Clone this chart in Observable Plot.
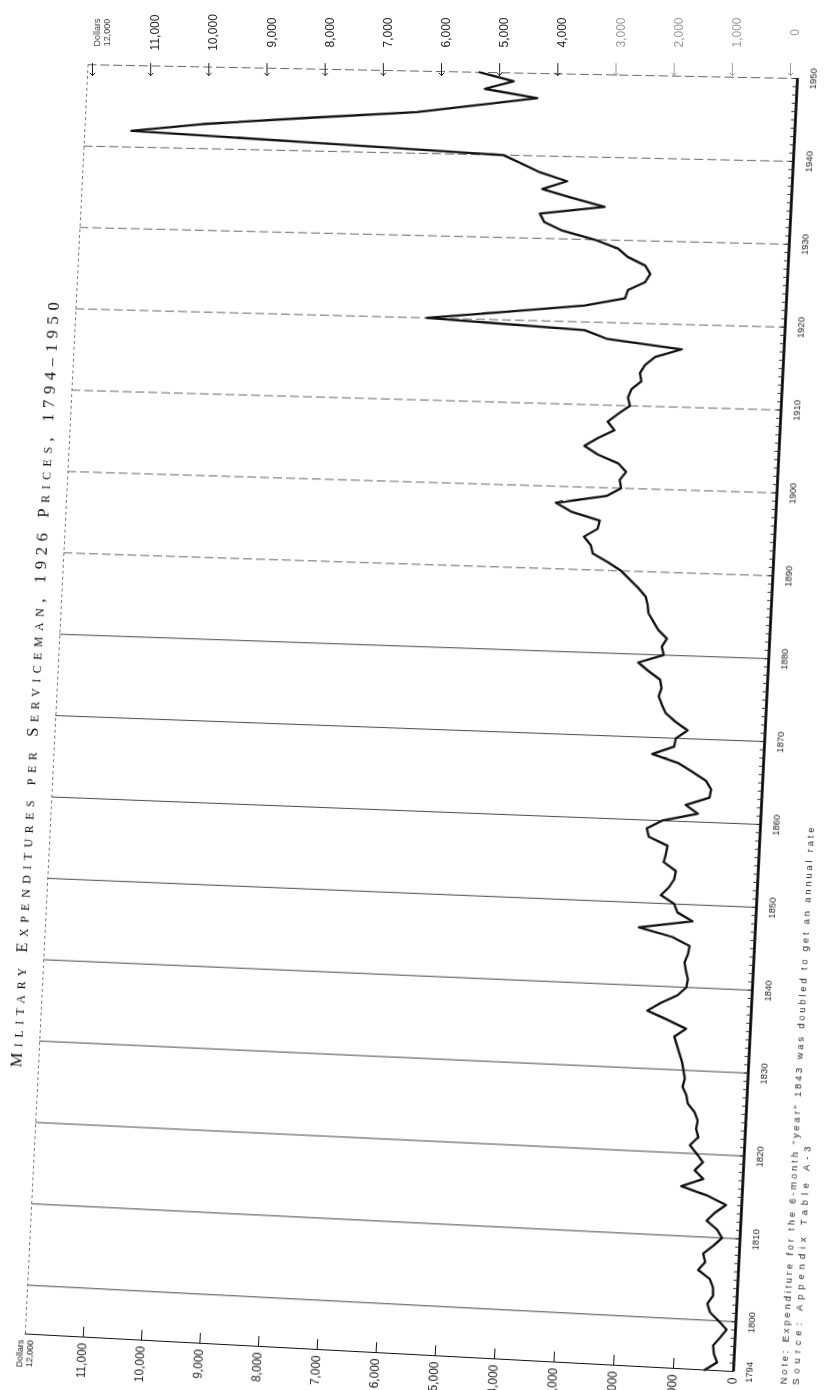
<!DOCTYPE html>
<html>
<head>
<meta charset="utf-8">
<script src="https://cdn.jsdelivr.net/npm/d3@7"></script>
<script src="https://cdn.jsdelivr.net/npm/@observablehq/plot@0.6"></script>
<style>
html, body { margin: 0; padding: 0; background: #fff; width: 828px; height: 1390px; overflow: hidden; position: relative; }
#main { position: absolute; left: -75px; top: -2px; transform-origin: 808px 1373px;
  transform: matrix3d(1.019, 0.054, 0, -0.0000264, -0.0495, 1, 0, 0, 0, 0, 1, 0, 0, 0, 0, 1);
  max-width: none !important; overflow: visible; }
#topaxis { position: absolute; left: -18px; top: 0px; max-width: none !important; overflow: visible; }
</style>
</head>
<body>
<script>
// ---- data ----
const startYear = 1794;
const expenditure = [
  480, 280, 340, 360, 250, 150,                                   // 1794-1799
  290, 440, 490, 400, 410, 470, 670, 560, 600, 440,               // 1800s
  300, 390, 570, 440, 260, 570, 1020, 660, 810, 680,              // 1810s
  790, 910, 780, 820, 800, 860, 980, 1010, 1080, 1050,            // 1820s
  1080, 1110, 1160, 1210, 1260, 1070, 1390, 1730, 1510, 1240,     // 1830s
  1100, 1080, 1120, 1150, 1100, 1080, 1370, 1940, 1050, 1310,     // 1840s
  1370, 1600, 1470, 1390, 1370, 1580, 1550, 1530, 1850, 1890,     // 1850s
  1640, 1050, 1260, 870, 850, 940, 1170, 1410, 1860, 1500,        // 1860s
  1480, 1290, 1500, 1670, 1740, 1800, 1760, 1790, 1990, 2170,     // 1870s
  1750, 1790, 1710, 1860, 1950, 2040, 2060, 2100, 2230, 2380,     // 1880s
  2530, 2760, 3020, 3060, 3180, 2960, 2930, 3420, 3680, 2840,     // 1890s
  2600, 2630, 2530, 2670, 3020, 3250, 3030, 2760, 2880, 2710,     // 1900s
  2520, 2560, 2510, 2350, 2380, 2300, 2140, 1700, 2950, 3340,     // 1910s
  6010, 4660, 3360, 2690, 2650, 2370, 2290, 2380, 2680, 2850,     // 1920s
  3250, 3800, 4110, 4190, 3110, 3660, 4170, 3760, 4220, 4530,     // 1930s
  4850, 8020, 11200, 9990, 8250, 6350, 5340, 4330, 5220, 4740,    // 1940s
  5320                                                            // 1950
];
const gridYears = [1800, 1810, 1820, 1830, 1840, 1850, 1860, 1870, 1880, 1890, 1900, 1910, 1920, 1930, 1940, 1950];
const yearLabels = [1794, 1800, 1810, 1820, 1830, 1840, 1850, 1860, 1870, 1880, 1890, 1900, 1910, 1920, 1930, 1940, 1950];
const valueTicks = [0, 1000, 2000, 3000, 4000, 5000, 6000, 7000, 8000, 9000, 10000, 11000, 12000];
const titleText = "Military Expenditures per Serviceman, 1926 Prices, 1794\u20131950";
const noteText = "Note: Expenditure for the 6-month \u201Cyear\u201D 1843 was doubled to get an annual rate";
const sourceText = "Source: Appendix Table A-3";

// ---- derived tables ----
const series = expenditure.map((v, i) => ({year: startYear + i, value: v}));
const allYears = series.map(d => d.year);
const endYear = allYears[allYears.length - 1];
const fmt = d3.format(",");
const lineShape = {draw(ctx, l) { ctx.moveTo(0, 0); ctx.lineTo(0, -l); }};
const sans = "'Liberation Sans', Arial, sans-serif";

const main = Plot.plot({
  width: 900, height: 1433,
  marginLeft: 100, marginRight: 92, marginTop: 80, marginBottom: 60,
  x: {domain: [12000, 0], axis: null},
  y: {domain: [startYear, endYear], axis: null},
  style: {background: "transparent", fontFamily: sans, color: "#111", maxWidth: "none", overflow: "visible"},
  marks: [
    Plot.ruleY(gridYears.filter(y => y < 1890), {stroke: "#333", strokeWidth: 0.9}),
    Plot.ruleY(gridYears.filter(y => y >= 1890), {stroke: "#555", strokeWidth: 0.9, strokeDasharray: "9,4"}),
    Plot.ruleX([12000], {stroke: "#666", strokeWidth: 0.9, strokeDasharray: "3,3"}),
    Plot.ruleY([startYear], {stroke: "#111", strokeWidth: 1.2}),
    Plot.ruleX([0], {stroke: "#000", strokeWidth: 2.6}),
    Plot.vector(allYears, {x: 0, y: d => d, length: 4, rotate: -90, anchor: "start", shape: lineShape, stroke: "#222", strokeWidth: 0.9}),
    Plot.vector(valueTicks.filter(v => v > 0 && v < 12000), {x: d => d, y: startYear, length: 10, rotate: 0, anchor: "start", shape: lineShape, stroke: "#111", strokeWidth: 1}),
    Plot.line(series, {x: "value", y: "year", stroke: "#111", strokeWidth: 2.3, strokeLinejoin: "round"}),
    Plot.text(yearLabels, {x: 0, y: d => d, text: d => String(d), rotate: -90, dx: 15, fontSize: 9.5, fill: "#222"}),
    Plot.text(valueTicks.filter(v => v < 12000), {x: d => d, y: startYear, text: d => fmt(d), rotate: -90, textAnchor: "end", dy: 6, fontSize: 12, fill: "#222"}),
    Plot.text([12000], {x: d => d, y: startYear, text: d => "Dollars\n" + fmt(d), rotate: -90, textAnchor: "end", dy: 6, fontSize: 9, lineHeight: 1.15, fill: "#222"}),
    Plot.text([titleText], {frameAnchor: "left", text: d => d, rotate: -90, textAnchor: "middle", dx: -23, dy: -14, fontSize: 17, fontFamily: "'Liberation Serif', serif", fontVariant: "small-caps", fill: "#111"}),
    Plot.text([noteText], {frameAnchor: "bottom-right", text: d => d, rotate: -90, textAnchor: "start", dx: 52, dy: 10, fontSize: 9.5, fill: "#222"}),
    Plot.text([sourceText], {frameAnchor: "bottom-right", text: d => d, rotate: -90, textAnchor: "start", dx: 64, dy: 10, fontSize: 9.5, fill: "#222"})
  ]
});
main.id = "main";
d3.select(main).selectAll("text").each(function() {
  const t = this.textContent;
  if (t.startsWith("Note:")) { this.setAttribute("textLength", 556); this.setAttribute("lengthAdjust", "spacing"); }
  if (t.startsWith("Source:")) { this.setAttribute("textLength", 238); this.setAttribute("lengthAdjust", "spacing"); }
  if (t.startsWith("Military")) { this.setAttribute("textLength", 780); this.setAttribute("lengthAdjust", "spacing"); }
});
document.body.appendChild(main);

// duplicate dollar scale along the top edge of the (rotated) chart
const topAxis = Plot.plot({
  width: 900, height: 100,
  marginLeft: 110, marginRight: 92, marginTop: 32, marginBottom: 10,
  x: {domain: [12000, 0], axis: null},
  style: {background: "transparent", fontFamily: sans, color: "#111", maxWidth: "none", overflow: "visible"},
  marks: [
    Plot.text(valueTicks.filter(v => v < 12000), {x: d => d, frameAnchor: "top", text: d => fmt(d), rotate: -90, fontSize: 12, fill: d => d >= 4000 ? "#222" : "#9a9a9a"}),
    Plot.text([12000], {x: d => d, frameAnchor: "top", text: d => "Dollars\n" + fmt(d), rotate: -90, fontSize: 9, lineHeight: 1.15, fill: "#444"}),
    Plot.vector(valueTicks, {x: d => d, frameAnchor: "top", dy: 31, length: 12, rotate: 180, anchor: "start", stroke: d => d >= 4000 ? "#222" : "#9a9a9a", strokeWidth: 1})
  ]
});
topAxis.id = "topaxis";
document.body.appendChild(topAxis);
</script>
</body>
</html>
